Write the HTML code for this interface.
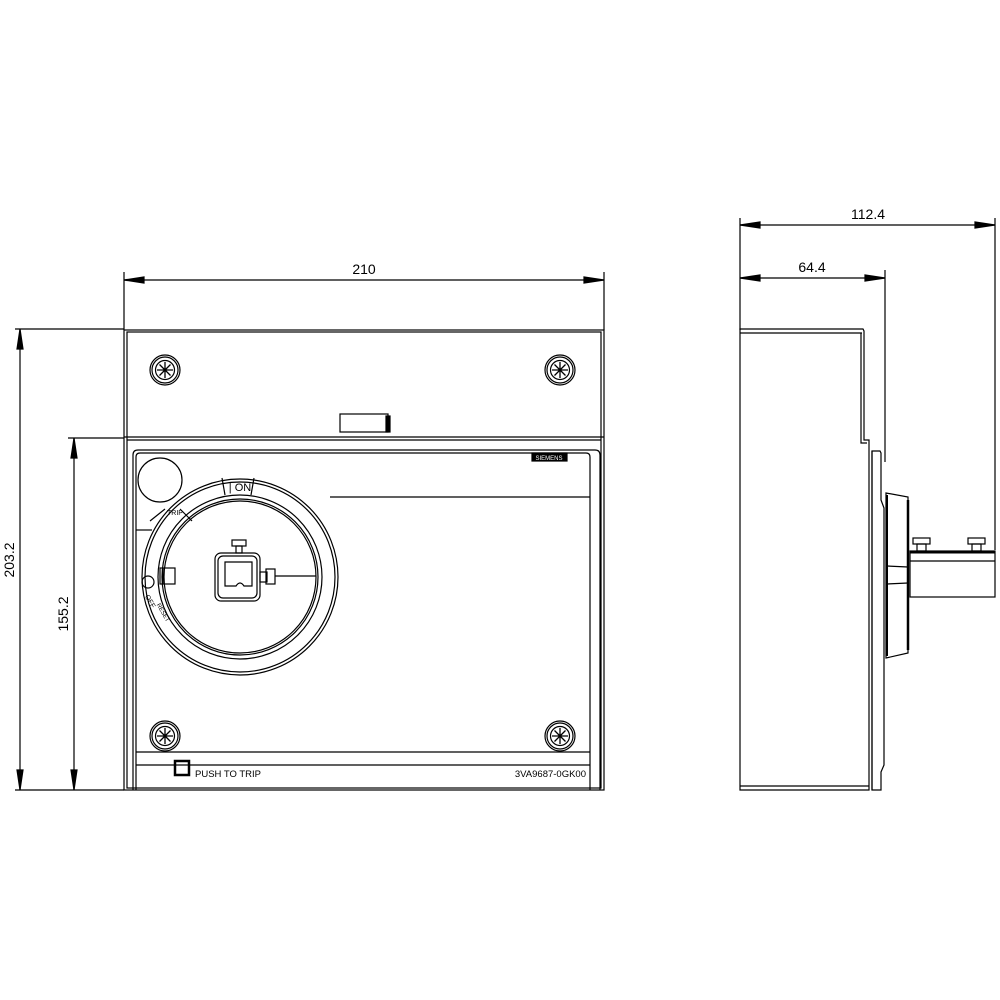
<!DOCTYPE html>
<html><head><meta charset="utf-8"><style>html,body{margin:0;padding:0;background:#fff}svg{display:block}</style></head><body>
<svg width="1000" height="1000" viewBox="0 0 1000 1000" xmlns="http://www.w3.org/2000/svg" font-family="Liberation Sans, sans-serif" fill="none" stroke="#000" stroke-width="1.2">
<defs>
<g id="scr"><circle r="15"/><circle r="13"/><circle r="9.5"/><path d="M0,-8V8M-8,0H8M-5.5,-5.5L5.5,5.5M-5.5,5.5L5.5,-5.5" stroke-width="1.3"/></g>
</defs>
<!-- dimensions front -->
<line x1="124" y1="272" x2="124" y2="330"/><line x1="604" y1="272" x2="604" y2="330"/>
<line x1="124" y1="280" x2="604" y2="280"/>
<path d="M124,280 l20,-3 v6z M604,280 l-20,-3 v6z" fill="#000"/>
<text x="364" y="274" font-size="14" fill="#000" stroke="none" text-anchor="middle">210</text>
<line x1="15" y1="329" x2="124" y2="329"/><line x1="15" y1="790" x2="124" y2="790"/>
<line x1="20" y1="329" x2="20" y2="790"/>
<path d="M20,329 l-3,20 h6z M20,790 l-3,-20 h6z" fill="#000"/>
<text transform="translate(14,560) rotate(-90)" font-size="14" fill="#000" stroke="none" text-anchor="middle">203.2</text>
<line x1="68" y1="438" x2="124" y2="438"/>
<line x1="74" y1="438" x2="74" y2="790"/>
<path d="M74,438 l-3,20 h6z M74,790 l-3,-20 h6z" fill="#000"/>
<text transform="translate(68,614) rotate(-90)" font-size="14" fill="#000" stroke="none" text-anchor="middle">155.2</text>
<!-- front box -->
<rect x="124" y="330" width="480" height="460"/>
<rect x="127" y="332" width="474" height="456"/>
<line x1="124" y1="437" x2="604" y2="437"/><line x1="127" y1="440" x2="601" y2="440"/>
<rect x="340" y="414" width="48" height="18"/><rect x="386" y="416" width="4" height="16" fill="#000"/>
<use href="#scr" x="165" y="370"/><use href="#scr" x="560" y="370"/>
<use href="#scr" x="165" y="736"/><use href="#scr" x="560" y="736"/>
<!-- inner cover -->
<path d="M133,790 V455 q0,-5 5,-5 H595 q5,0 5,5 V790"/>
<path d="M136,790 V457 q0,-4 4,-4 H586 q4,0 4,4 V790"/>
<line x1="330" y1="497" x2="590" y2="497"/>
<line x1="136" y1="530" x2="152" y2="530"/>
<line x1="136" y1="752" x2="590" y2="752"/><line x1="136" y1="765" x2="590" y2="765"/>
<rect x="532" y="453" width="35" height="8" fill="#000"/>
<text x="549" y="460" font-size="6" fill="#fff" stroke="none" text-anchor="middle">SIEMENS</text>
<rect x="175" y="761" width="14" height="14" stroke-width="2.5"/>
<text x="195" y="777" font-size="9.5" fill="#000" stroke="none">PUSH TO TRIP</text>
<text x="586" y="777" font-size="9.5" fill="#000" stroke="none" text-anchor="end">3VA9687-0GK00</text>
<!-- knob -->
<circle cx="160" cy="480" r="22" fill="#fff"/>
<circle cx="240" cy="577" r="98" fill="#fff"/>
<circle cx="240" cy="577" r="95"/>
<circle cx="240" cy="577" r="82"/>
<circle cx="240" cy="577" r="78"/>
<circle cx="240" cy="577" r="76"/>
<path d="M222,478 l3,17 M254,478 l-3,17 M180,509 l12,12 M165,509 l-15,12"/>
<text x="240" y="491" font-size="11" fill="#000" stroke="none" text-anchor="middle">| ON</text>
<text x="167" y="515" font-size="7" fill="#000" stroke="none">TRIP</text>
<circle cx="148" cy="582" r="6"/>
<rect x="160" y="568" width="15" height="16"/><line x1="163" y1="568" x2="163" y2="584"/>
<text x="145" y="600" font-size="7" fill="#000" stroke="none" transform="rotate(60 148 598)">OFF</text>
<text x="150" y="608" font-size="6" fill="#000" stroke="none" transform="rotate(60 156 612)">RESET</text>
<rect x="215" y="553" width="45" height="48" rx="6"/>
<rect x="218" y="556" width="39" height="42" rx="5"/>
<path d="M225,562 H252 V586 H244 q-4,-6 -8,0 H225Z"/>
<rect x="232" y="540" width="14" height="6"/><rect x="236" y="546" width="6" height="7"/>
<rect x="260" y="572" width="7" height="10"/><rect x="266" y="569" width="9" height="15"/>
<line x1="275" y1="576" x2="316" y2="576"/>
<!-- side view dims -->
<line x1="740" y1="218" x2="740" y2="330"/><line x1="995" y1="218" x2="995" y2="550"/>
<line x1="740" y1="225" x2="995" y2="225"/>
<path d="M740,225 l20,-3 v6z M995,225 l-20,-3 v6z" fill="#000"/>
<text x="868" y="219" font-size="14" fill="#000" stroke="none" text-anchor="middle">112.4</text>
<line x1="885" y1="270" x2="885" y2="462"/>
<line x1="740" y1="278" x2="885" y2="278"/>
<path d="M740,278 l20,-3 v6z M885,278 l-20,-3 v6z" fill="#000"/>
<text x="812" y="272" font-size="14" fill="#000" stroke="none" text-anchor="middle">64.4</text>
<!-- side body -->
<path d="M740,329 H863 L864,331 V440 H869 V790 H740Z"/>
<line x1="740" y1="333" x2="862" y2="333"/><line x1="740" y1="786" x2="869" y2="786"/>
<path d="M861,333 V443 H867"/>
<path d="M872,451 H880 L881,453 V500 L884,508 V765 L881,772 V790 H872Z"/>
<line x1="872" y1="451" x2="872" y2="790"/>
<path d="M886,493 L908,497 V653 L886,658Z"/>
<line x1="887" y1="495" x2="887" y2="656" stroke-width="2"/>
<line x1="908" y1="500" x2="908" y2="650" stroke-width="2.5"/>
<line x1="887" y1="566" x2="908" y2="567"/><line x1="887" y1="584" x2="908" y2="583"/>
<rect x="910" y="551" width="85" height="46"/>
<line x1="910" y1="552" x2="995" y2="552" stroke-width="3"/>
<line x1="910" y1="561" x2="995" y2="561"/>
<rect x="913" y="538" width="17" height="6"/><rect x="917" y="544" width="9" height="7"/>
<rect x="968" y="538" width="17" height="6"/><rect x="972" y="544" width="9" height="7"/>
</svg>
</body></html>
